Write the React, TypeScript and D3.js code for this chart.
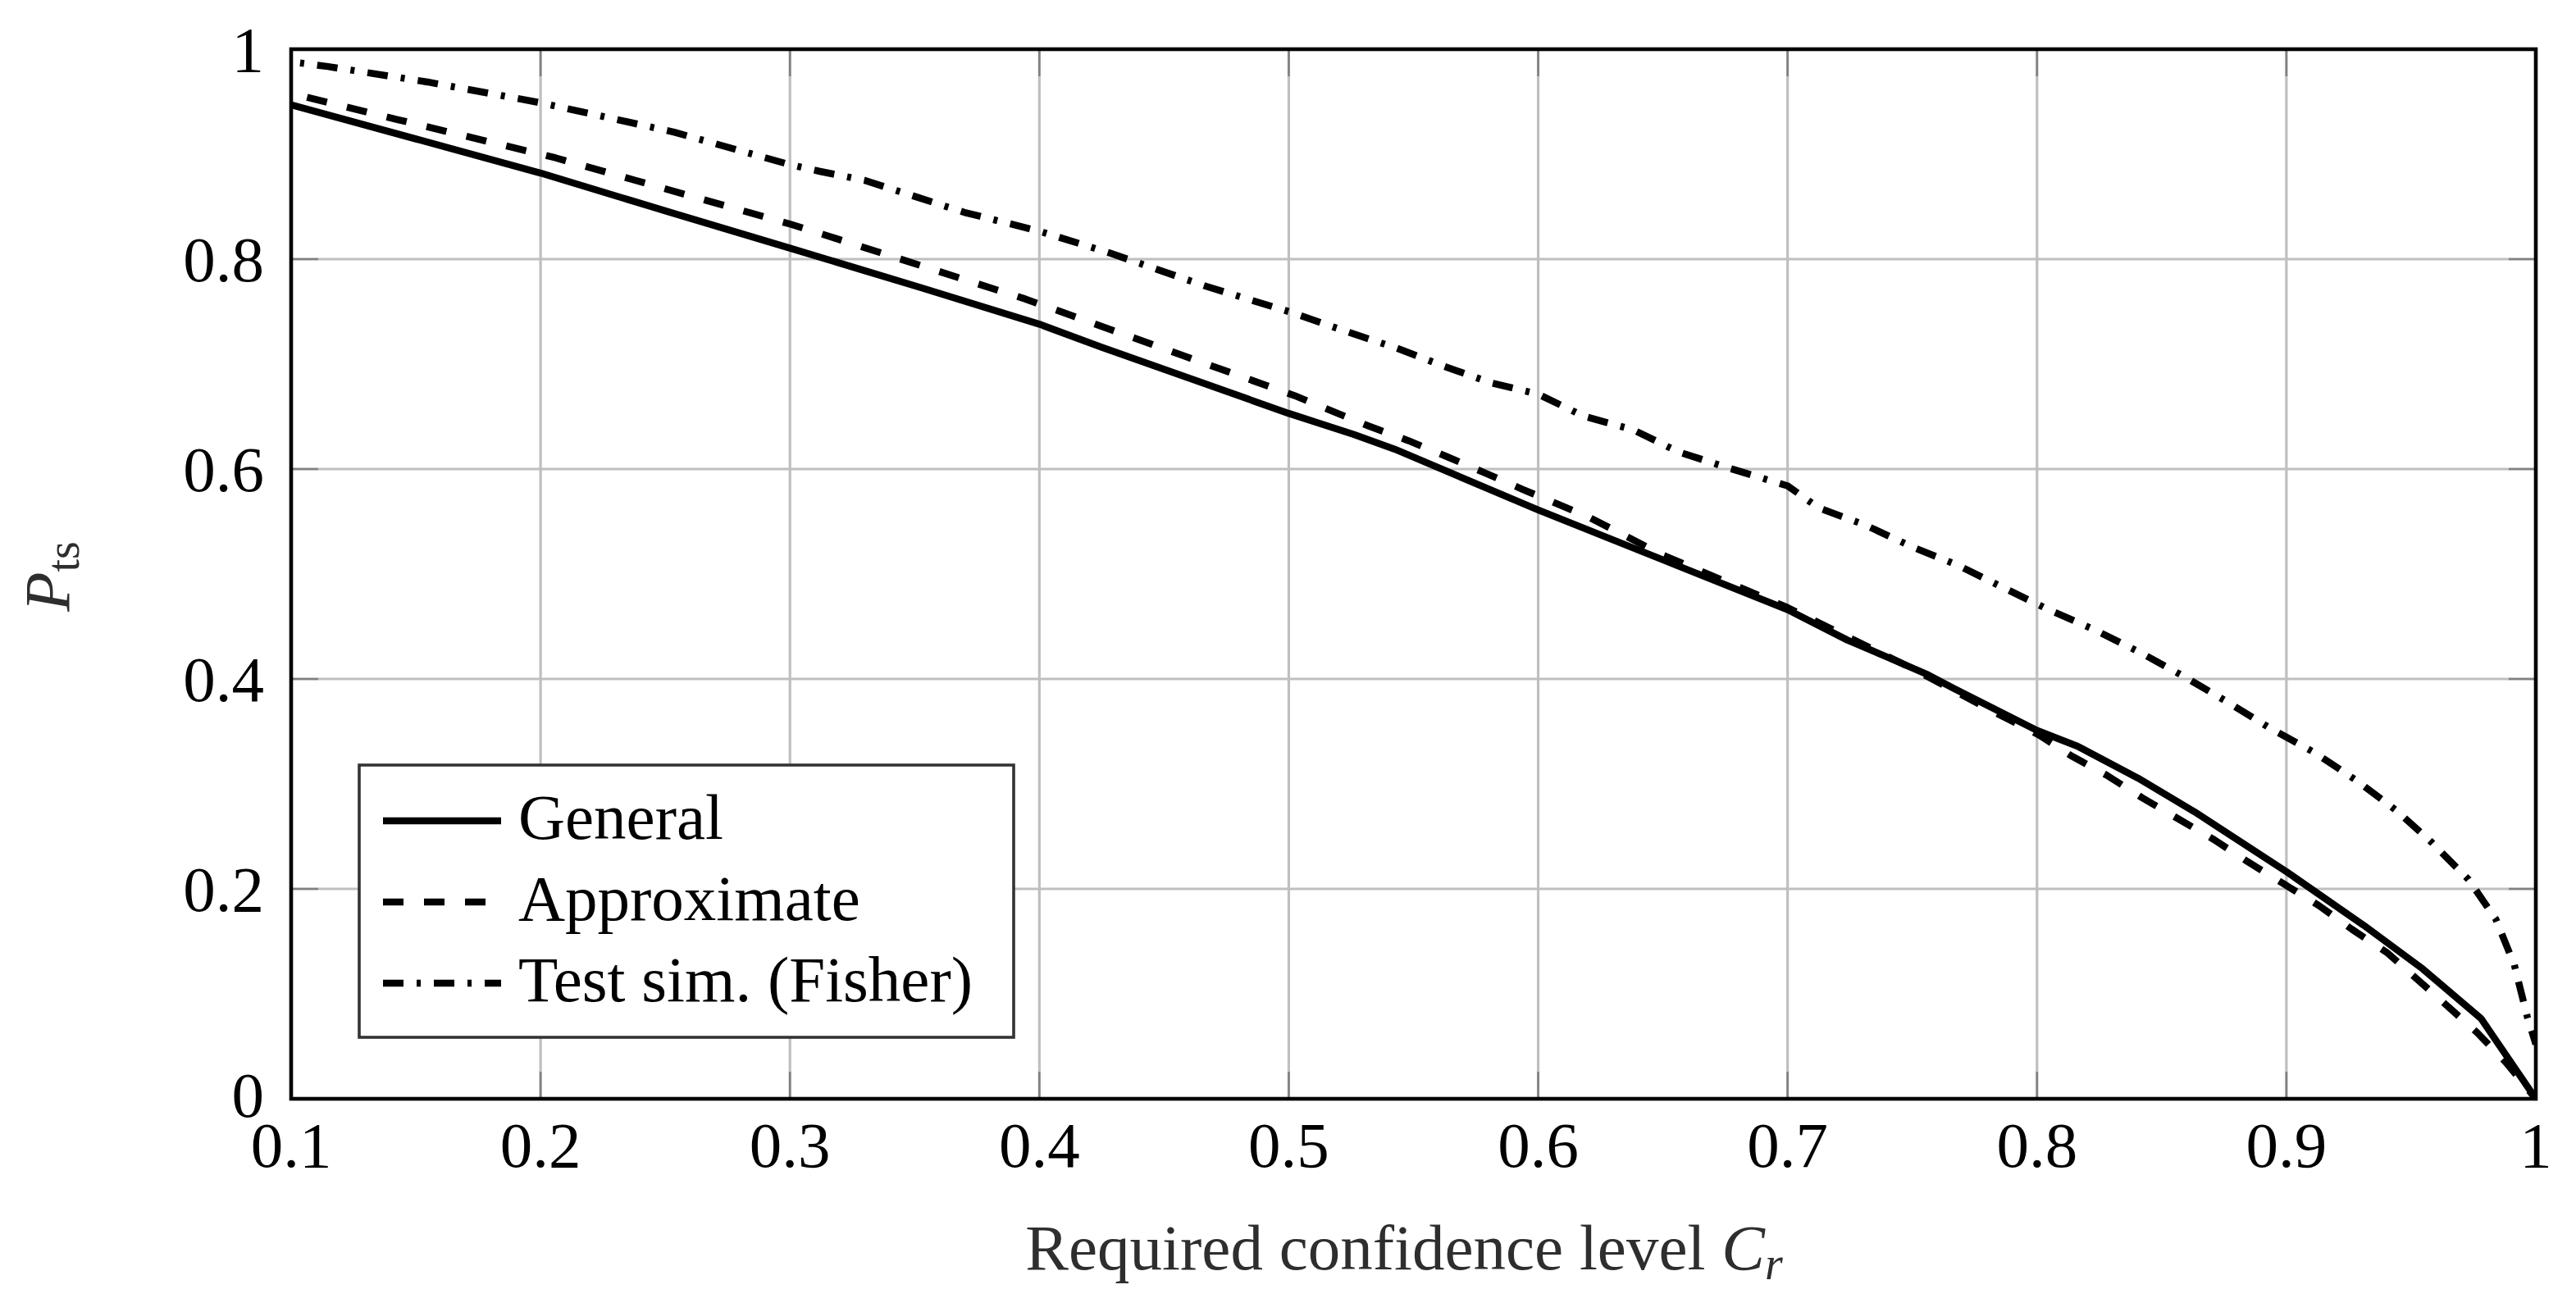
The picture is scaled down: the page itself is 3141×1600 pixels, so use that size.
import React from "react";
import * as d3 from "d3";

// ---------- data ----------
const generalX = [0.1, 0.2, 0.25, 0.3, 0.33, 0.353, 0.4, 0.425, 0.5, 0.526, 0.5424, 0.6, 0.7, 0.724, 0.7398, 0.7563, 0.7666, 0.8, 0.8162, 0.8405, 0.8632, 0.9, 0.931, 0.9547, 0.978, 1.0];
const generalY = [0.947, 0.882, 0.846, 0.8105, 0.789, 0.7725, 0.738, 0.716, 0.653, 0.633, 0.619, 0.561, 0.466, 0.437, 0.421, 0.404, 0.391, 0.351, 0.336, 0.3055, 0.2734, 0.2164, 0.1653, 0.1237, 0.0766, 0.0];

const approxX = [0.1, 0.11, 0.1426, 0.206, 0.2375, 0.3006, 0.316, 0.3944, 0.5023, 0.532, 0.548, 0.5627, 0.578, 0.5934, 0.62, 0.65, 0.7, 0.75, 0.78, 0.801, 0.8136, 0.828, 0.8423, 0.8566, 0.871, 0.8844, 0.8987, 0.9129, 0.9262, 0.9406, 0.9523, 0.964, 0.9765, 0.988, 1.0];
const approxY = [0.958, 0.952, 0.933, 0.8965, 0.8754, 0.833, 0.8215, 0.762, 0.67, 0.641, 0.627, 0.6125, 0.597, 0.581, 0.5545, 0.518, 0.468, 0.41, 0.372, 0.3464, 0.327, 0.3082, 0.2866, 0.2668, 0.2469, 0.226, 0.2051, 0.1843, 0.1616, 0.1388, 0.1142, 0.0896, 0.063, 0.0347, 0.0];

const fisherX = [0.1, 0.1147, 0.1546, 0.2, 0.2535, 0.3, 0.312, 0.33, 0.37, 0.4, 0.428, 0.4667, 0.5, 0.5244, 0.5433, 0.5617, 0.5812, 0.6, 0.6182, 0.638, 0.6562, 0.6752, 0.7, 0.7125, 0.7309, 0.75, 0.7686, 0.7862, 0.8047, 0.8223, 0.8416, 0.8592, 0.8769, 0.8936, 0.9112, 0.9279, 0.9438, 0.958, 0.973, 0.984, 0.9914, 0.9966, 1.0];
const fisherY = [0.988, 0.9835, 0.9688, 0.949, 0.921, 0.89, 0.8836, 0.875, 0.8445, 0.8266, 0.806, 0.7742, 0.75, 0.73, 0.7152, 0.6984, 0.682, 0.6714, 0.6504, 0.6375, 0.6164, 0.6018, 0.584, 0.5629, 0.5469, 0.5258, 0.508, 0.4873, 0.466, 0.4477, 0.425, 0.402, 0.3773, 0.3528, 0.33, 0.3036, 0.2752, 0.2449, 0.209, 0.171, 0.1275, 0.078, 0.052];

const xTicks = [0.1, 0.2, 0.3, 0.4, 0.5, 0.6, 0.7, 0.8, 0.9, 1];
const yTicks = [0, 0.2, 0.4, 0.6, 0.8, 1];
const seriesNames = ["General", "Approximate", "Test sim. (Fisher)"];

// ---------- layout ----------
const W = 3141;
const H = 1600;
const L = 355, R = 3092, T = 60, B = 1340;
const FONT = "'Liberation Serif', 'Times New Roman', serif";
const FS = 79;
const LW = 8.5;
const DASHED = "25,25";
const DASHDOT = "25,16,5,16";

export default function App() {
  const x = d3.scaleLinear().domain([0.1, 1]).range([L, R]);
  const y = d3.scaleLinear().domain([0, 1]).range([B, T]);
  const line = d3
    .line<[number, number]>()
    .x((d) => x(d[0]))
    .y((d) => y(d[1]));
  const zip = (a: number[], b: number[]) => a.map((v, i) => [v, b[i]] as [number, number]);

  const series = [
    { name: seriesNames[0], d: line(zip(generalX, generalY)) || "", dash: undefined as string | undefined, off: 0 },
    { name: seriesNames[1], d: line(zip(approxX, approxY)) || "", dash: DASHED, off: 30 },
    { name: seriesNames[2], d: line(zip(fisherX, fisherY)) || "", dash: DASHDOT, off: 30 },
  ];

  const fmt = (v: number) => (v === 0 || v === 1 ? String(v) : String(+v.toFixed(1)));
  const tickLen = 33;

  const legX = 438, legY = 933, legW = 798, legH = 332;
  const rowY = [1001, 1100, 1199];

  return (
    <svg
      width={W}
      height={H}
      viewBox={`0 0 ${W} ${H}`}
      style={{ position: "absolute", left: 0, top: 0, background: "#fff" }}
      fontFamily={FONT}
    >
      <rect x={0} y={0} width={W} height={H} fill="#fff" />
      <defs>
        <clipPath id="plotclip">
          <rect x={L} y={T} width={R - L} height={B - T} />
        </clipPath>
      </defs>

      {/* grid */}
      <g stroke="#bfbfbf" strokeWidth={3.2}>
        {xTicks.map((t) => (
          <line key={"gx" + t} x1={x(t)} x2={x(t)} y1={T} y2={B} />
        ))}
        {yTicks.map((t) => (
          <line key={"gy" + t} x1={L} x2={R} y1={y(t)} y2={y(t)} />
        ))}
      </g>

      {/* ticks (inward, on all sides) */}
      <g stroke="#808080" strokeWidth={2.6}>
        {xTicks.map((t) => (
          <g key={"tx" + t}>
            <line x1={x(t)} x2={x(t)} y1={B} y2={B - tickLen} />
            <line x1={x(t)} x2={x(t)} y1={T} y2={T + tickLen} />
          </g>
        ))}
        {yTicks.map((t) => (
          <g key={"ty" + t}>
            <line x1={L} x2={L + tickLen} y1={y(t)} y2={y(t)} />
            <line x1={R} x2={R - tickLen} y1={y(t)} y2={y(t)} />
          </g>
        ))}
      </g>

      {/* series */}
      <g clipPath="url(#plotclip)" fill="none" stroke="#000" strokeWidth={LW} strokeLinejoin="round">
        {series.map((s) => (
          <path key={s.name} d={s.d} strokeDasharray={s.dash} strokeDashoffset={s.off} />
        ))}
      </g>

      {/* frame */}
      <rect x={L} y={T} width={R - L} height={B - T} fill="none" stroke="#000" strokeWidth={4.6} />

      {/* tick labels */}
      <g fontSize={FS} fill="#000">
        {xTicks.map((t) => (
          <text key={"lx" + t} x={x(t)} y={1423} textAnchor="middle">
            {fmt(t)}
          </text>
        ))}
        {yTicks.map((t) => (
          <text key={"ly" + t} x={322} y={y(t) + (t === 0 ? 22 : 27)} textAnchor="end">
            {fmt(t)}
          </text>
        ))}
      </g>

      {/* axis labels */}
      <text x={1712} y={1548} fontSize={FS} fill="#2e2e2e" textAnchor="middle">
        Required confidence level{" "}
        <tspan fontStyle="italic">C</tspan>
        <tspan fontStyle="italic" fontSize={56} dy={12}>r</tspan>
      </text>
      <text transform="translate(84,703) rotate(-90)" fontSize={FS} fill="#2e2e2e" textAnchor="middle">
        <tspan fontStyle="italic">P</tspan>
        <tspan fontSize={56} dy={12}>ts</tspan>
      </text>

      {/* legend */}
      <rect x={legX} y={legY} width={legW} height={legH} fill="#fff" stroke="#333" strokeWidth={3.6} />
      {series.map((s, i) => (
        <g key={"leg" + s.name}>
          <line
            x1={467}
            x2={611}
            y1={rowY[i]}
            y2={rowY[i]}
            stroke="#000"
            strokeWidth={LW}
            strokeDasharray={s.dash}
          />
          <text x={632} y={rowY[i] + 22} fontSize={FS} fill="#000">
            {s.name}
          </text>
        </g>
      ))}
    </svg>
  );
}
